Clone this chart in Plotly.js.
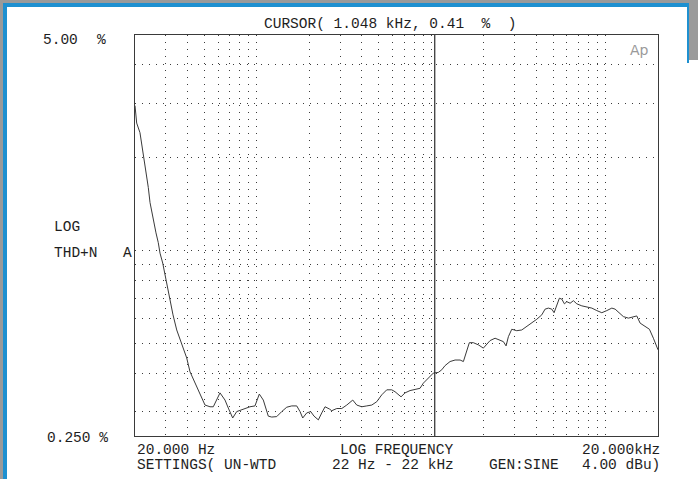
<!DOCTYPE html>
<html>
<head>
<meta charset="utf-8">
<script src="https://cdn.plot.ly/plotly-3.0.1.min.js"></script>
<style>
  html, body { margin: 0; padding: 0; background: #ffffff; }
  #wrap { position: relative; width: 698px; height: 479px; overflow: hidden; }
  #plot { position: absolute; left: 0; top: 0; width: 698px; height: 479px; }
  .fr { position: absolute; pointer-events: none; }
</style>
</head>
<body>
<div id="wrap">
  <div id="plot"></div>
  <div class="fr" style="left:0;top:0;width:698px;height:3px;background:#9a9a9a;"></div>
  <div class="fr" style="left:0;top:0;width:3px;height:479px;background:#9a9a9a;"></div>
  <div class="fr" style="left:3px;top:3px;width:686px;height:4px;background:#1e90d0;"></div>
  <div class="fr" style="left:3px;top:3px;width:4px;height:476px;background:#1e90d0;"></div>
  <div class="fr" style="left:687px;top:3px;width:2px;height:60px;background:#1e90d0;"></div>
  <div class="fr" style="left:689px;top:0;width:9px;height:60px;background:#9a9a9a;"></div>
</div>
<script>
// Measured data: frequency (Hz) and THD+N (%)
const freqHz = [20, 20.45, 21.36, 22.14, 22.53, 23.35, 23.84, 24.39, 25.03, 25.70,
  26.39, 27.20, 27.83, 28.84, 29.53, 30.13, 31.06, 31.98, 33.04, 34.70,
  37.06, 39.59, 41.36, 44.18, 47.19, 50.42, 53.86, 56.26, 61.46, 65.66,
  68.58, 72.68, 76.64, 81.86, 85.50, 91.32, 97.56, 100.6, 103.3, 108.9,
  116.3, 121.7, 130.0, 138.9, 148.4, 158.5, 169.3, 176.9, 183.3, 193.2,
  203.7, 212.8, 225.3, 235.6, 246.1, 260.5, 268.9, 287.3, 306.9, 327.9,
  354.9, 374.2, 399.7, 427.0, 456.1, 487.2, 520.5, 556.0, 593.9, 620.4,
  648.0, 671.5, 708.0, 756.1, 807.8, 862.9, 901.4, 963.0, 1029, 1099,
  1150, 1201, 1283, 1371, 1465, 1530, 1600, 1655, 1745, 1864,
  1991, 2083, 2177, 2325, 2484, 2594, 2689, 2772, 2899, 3097,
  3308, 3534, 3776, 4033, 4309, 4501, 4702, 4918, 5070, 5254,
  5438, 5614, 5810, 5998, 6265, 6544, 6845, 7312, 7811, 8345,
  8915, 9523, 10170, 10870, 11350, 12010, 12660, 13530, 14450, 15110,
  15790, 16870, 17860, 18820, 19690, 20000];

const thdPct = [2.95, 2.59, 2.41, 2.12, 1.94, 1.74, 1.60, 1.43, 1.32, 1.23,
  1.14, 1.06, 0.98, 0.91, 0.85, 0.785, 0.728, 0.676, 0.618, 0.552,
  0.501, 0.448, 0.404, 0.372, 0.340, 0.315, 0.311, 0.311, 0.345, 0.327,
  0.308, 0.286, 0.300, 0.304, 0.308, 0.311, 0.313, 0.327, 0.342, 0.327,
  0.290, 0.288, 0.289, 0.300, 0.310, 0.313, 0.313, 0.300, 0.286, 0.297,
  0.300, 0.290, 0.282, 0.297, 0.311, 0.306, 0.302, 0.307, 0.307, 0.315,
  0.327, 0.315, 0.311, 0.313, 0.315, 0.323, 0.340, 0.353, 0.353, 0.348,
  0.340, 0.335, 0.345, 0.351, 0.354, 0.357, 0.371, 0.385, 0.400, 0.402,
  0.410, 0.423, 0.436, 0.441, 0.441, 0.436, 0.470, 0.502, 0.502, 0.494,
  0.482, 0.494, 0.510, 0.519, 0.512, 0.506, 0.490, 0.525, 0.555, 0.549,
  0.552, 0.566, 0.583, 0.598, 0.618, 0.645, 0.650, 0.645, 0.628, 0.666,
  0.700, 0.695, 0.671, 0.682, 0.674, 0.687, 0.671, 0.661, 0.657, 0.650,
  0.638, 0.628, 0.638, 0.650, 0.645, 0.626, 0.610, 0.603, 0.607, 0.613,
  0.581, 0.566, 0.555, 0.519, 0.482, 0.476];

// Cursor reading
const cursorHz = [1048];
const cursorPct = [0.41];

// Axis extents and grid
const xRangeHz = [20, 20000];
const yRangePct = [0.25, 5];
const xGridHz = [30, 40, 50, 60, 70, 80, 90, 100, 200, 300, 400, 500, 600, 700, 800, 900,
  1000, 2000, 3000, 4000, 5000, 6000, 7000, 8000, 9000, 10000];
const yGridPct = [0.3, 0.4, 0.5, 0.6, 0.7, 0.8, 0.9, 1, 2, 3, 4];

// Text labels
const yTopLabel = ['5.00', '%'];
const yBottomLabel = '0.250 %';
const yAxisLabel = ['LOG', 'THD+N', 'A'];
const xLeftLabel = '20.000 Hz';
const xMidLabel = 'LOG FREQUENCY';
const xRightLabel = '20.000kHz';
const settingsLabels = ['SETTINGS( UN-WTD', '22 Hz - 22 kHz', 'GEN:SINE', '4.00 dBu)'];

const NB = '\u00a0';
const sp = s => s.replace(/ /g, NB);

const W = 698, H = 479;
const L = 135, R = 658, T = 35, B = 436;
const px = x => (x - L) / (R - L);
const py = y => (B - y) / (B - T);

const FONT = {family: 'Liberation Mono, DejaVu Sans Mono, monospace', size: 14.5, color: '#1e1e1e'};

function ann(text, x, y, xanchor) {
  return {text: sp(text), xref: 'paper', yref: 'paper', x: px(x), y: py(y),
    xanchor: xanchor || 'left', yanchor: 'middle', showarrow: false, font: FONT};
}

const titleText = 'CURSOR( ' + (cursorHz[0] / 1000).toFixed(3) + ' kHz, ' +
  cursorPct[0].toFixed(2) + '  %  )';

const traces = [
  {x: freqHz, y: thdPct, type: 'scatter', mode: 'lines',
   line: {color: '#3a3a3a', width: 1}, hoverinfo: 'skip', showlegend: false},
  {x: [cursorHz[0], cursorHz[0]], y: yRangePct, type: 'scatter', mode: 'lines',
   line: {color: '#2a2a2a', width: 1.2}, hoverinfo: 'skip', showlegend: false}
];

const axisCommon = {
  type: 'log', showticklabels: false, ticks: '', showgrid: true,
  gridcolor: '#3c3c3c', gridwidth: 1, zeroline: false,
  showline: true, mirror: true, linecolor: '#3a3a3a', linewidth: 1
};

const layout = {
  width: W, height: H,
  margin: {l: L, r: W - R, t: T, b: H - B, pad: 0},
  paper_bgcolor: '#ffffff', plot_bgcolor: '#ffffff',
  showlegend: false,
  title: {text: sp(titleText), font: FONT, xref: 'container', yref: 'container',
    x: 264 / W, xanchor: 'left', y: 1 - 23 / H, yanchor: 'middle'},
  xaxis: Object.assign({}, axisCommon, {
    range: xRangeHz.map(Math.log10), tickvals: xGridHz, griddash: '1px,6px'}),
  yaxis: Object.assign({}, axisCommon, {
    range: yRangePct.map(Math.log10), tickvals: yGridPct, griddash: '1px,6px'}),
  annotations: [
    ann(yTopLabel[0], 41, 40),
    ann(yTopLabel[1], 95, 40),
    ann(yBottomLabel, 45, 438),
    ann(yAxisLabel[0], 52, 227),
    ann(yAxisLabel[1], 52, 253),
    ann(yAxisLabel[2], 121, 253),
    ann(xLeftLabel, 135, 450),
    ann(xMidLabel, 338, 450),
    ann(xRightLabel, 662, 450, 'right'),
    ann(settingsLabels[0], 135, 465),
    ann(settingsLabels[1], 330, 465),
    ann(settingsLabels[2], 487, 465),
    ann(settingsLabels[3], 662, 465, 'right'),
    {text: 'Ap', xref: 'paper', yref: 'paper', x: px(651), y: py(50), xanchor: 'right',
     yanchor: 'middle', showarrow: false,
     font: {family: 'DejaVu Sans, sans-serif', size: 14, color: '#9a9a9a'}}
  ]
};

Plotly.newPlot('plot', traces, layout, {staticPlot: true, displayModeBar: false});
</script>
</body>
</html>
